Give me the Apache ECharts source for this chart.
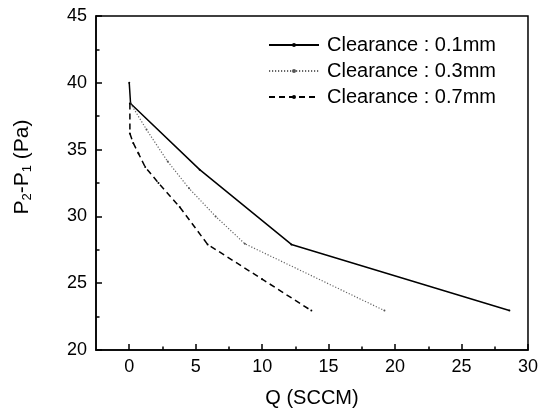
<!DOCTYPE html>
<html>
<head>
<meta charset="utf-8">
<script src="https://cdn.jsdelivr.net/npm/echarts@6/dist/echarts.min.js"></script>
<style>html,body{margin:0;padding:0;background:#fff}#c{width:541px;height:415px}</style>
</head>
<body>
<div id="c"></div>
<script>
// Data
var seriesNames = ['Clearance : 0.1mm', 'Clearance : 0.3mm', 'Clearance : 0.7mm'];
var q01 = [0, 0.1, 5.3, 12.2, 28.6];
var p01 = [40, 38.45, 33.5, 27.9, 22.95];
var q03 = [0.1, 1.3, 2.9, 4.5, 6.5, 8.7, 19.2];
var p03 = [38.45, 36.5, 34.1, 32.1, 30.0, 27.95, 22.95];
var q07 = [0.05, 0.05, 0.3, 0.7, 1.2, 2.2, 3.8, 5.9, 10.0, 13.7];
var p07 = [38.45, 36.2, 35.5, 34.7, 33.7, 32.5, 30.7, 27.9, 25.3, 22.95];
var xMajorTicks = [0, 5, 10, 15, 20, 25, 30];
var xMinorTicks = [2.5, 7.5, 12.5, 17.5, 22.5, 27.5];

function pairs(xs, ys) { return xs.map(function (x, i) { return [x, ys[i]]; }); }

var FONT = 'Liberation Sans, Arial, sans-serif';
var chart = echarts.init(document.getElementById('c'));
chart.setOption({
  animation: false,
  backgroundColor: '#fff',
  textStyle: { fontFamily: FONT, color: '#000' },
  grid: { left: 96, right: 11, top: 16, bottom: 65, show: true, borderColor: '#000', borderWidth: 1.5, containLabel: false },
  legend: {
    orient: 'vertical', left: 268, top: 35, padding: 0, itemWidth: 50, itemHeight: 5, itemGap: 6,
    textStyle: { fontSize: 20, fontFamily: FONT, color: '#000', lineHeight: 20, padding: [0, 0, 0, 3] },
    data: seriesNames
  },
  xAxis: [{
    type: 'value', min: -2.5, max: 30,
    name: 'Q (SCCM)', nameLocation: 'middle', nameGap: 38,
    nameTextStyle: { fontSize: 20, fontFamily: FONT, color: '#000' },
    axisLine: { show: true, onZero: false, lineStyle: { color: '#000', width: 1.5 } },
    axisTick: { show: true, inside: true, length: 6, lineStyle: { color: '#000', width: 1.5 }, customValues: xMajorTicks },
    axisLabel: { fontSize: 18, color: '#000', fontFamily: FONT, margin: 8, customValues: xMajorTicks },
    splitLine: { show: false }
  }, {
    type: 'value', min: -2.5, max: 30, position: 'bottom',
    axisLine: { show: false, onZero: false },
    axisTick: { show: true, inside: true, length: 3.5, lineStyle: { color: '#000', width: 1.5 }, customValues: xMinorTicks },
    axisLabel: { show: false },
    splitLine: { show: false }
  }],
  yAxis: {
    type: 'value', min: 20, max: 45, interval: 5,
    name: '{a|P}{s|2}{a|-P}{s|1}{a| (Pa)}', nameLocation: 'middle', nameGap: 62, nameRotate: 90,
    nameTextStyle: {
      fontFamily: FONT, color: '#000', padding: [0, 0, 0, 32],
      rich: {
        a: { fontSize: 21, fontFamily: FONT, color: '#000', lineHeight: 24 },
        s: { fontSize: 13, fontFamily: FONT, color: '#000', lineHeight: 13, padding: [10, 0, 0, 0] }
      }
    },
    axisLine: { show: true, onZero: false, lineStyle: { color: '#000', width: 1.5 } },
    axisTick: { show: true, inside: true, length: 6, lineStyle: { color: '#000', width: 1.5 } },
    minorTick: { show: true, splitNumber: 2, length: 3.5, lineStyle: { color: '#000', width: 1.5 } },
    axisLabel: { fontSize: 18, color: '#000', fontFamily: FONT, margin: 9 },
    splitLine: { show: false }
  },
  series: [
    { name: seriesNames[0], type: 'line', data: pairs(q01, p01), symbol: 'circle', symbolSize: 2, showSymbol: true,
      itemStyle: { color: '#000' }, lineStyle: { color: '#000', width: 1.5, type: 'solid' } },
    { name: seriesNames[1], type: 'line', data: pairs(q03, p03), symbol: 'circle', symbolSize: 2, showSymbol: true,
      itemStyle: { color: '#555' }, lineStyle: { color: '#666', width: 1.2, type: [1.2, 1.8] } },
    { name: seriesNames[2], type: 'line', data: pairs(q07, p07), symbol: 'circle', symbolSize: 2, showSymbol: true,
      itemStyle: { color: '#000' }, lineStyle: { color: '#000', width: 1.5, type: [6, 4] } }
  ]
});
</script>
</body>
</html>
